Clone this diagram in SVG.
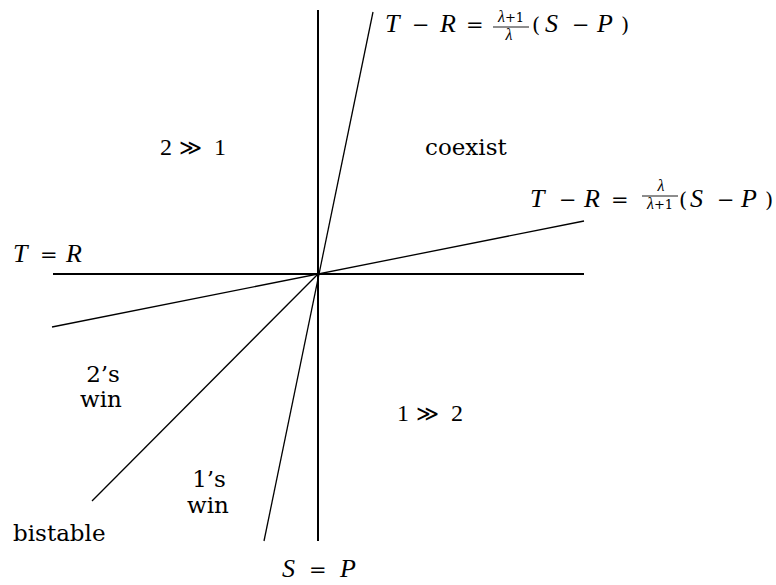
<svg xmlns="http://www.w3.org/2000/svg" width="776" height="585" viewBox="0 0 776 585">
<style>
.m{font-family:"Liberation Serif",serif;font-size:26px;font-style:italic;fill:#000}
.o{font-family:"DejaVu Serif",serif;font-size:21px;fill:#000}
.u{font-family:"Liberation Serif",serif;font-size:24px;fill:#000}
.f{font-family:"DejaVu Serif",serif;font-size:13px;fill:#000}
.fi{font-style:italic;font-family:"Liberation Serif",serif;font-size:16px}
.t{font-family:"DejaVu Serif",serif;font-size:23px;fill:#000}
.g{font-family:"DejaVu Serif",serif;font-size:22px;fill:#000}
.ax{stroke:#000;stroke-width:2;fill:none}
.ln{stroke:#000;stroke-width:1.3;fill:none}
.bar{stroke:#000;stroke-width:0.9}
</style>
<rect width="776" height="585" fill="#fff"/>
<g id="connectors">
<line class="ax" x1="318" y1="10" x2="318" y2="541"/>
<line class="ax" x1="53" y1="274" x2="584" y2="274"/>
<line class="ln" x1="373" y1="12" x2="264" y2="541"/>
<line class="ln" x1="584" y1="221" x2="52" y2="327"/>
<line class="ln" x1="318" y1="274" x2="92" y2="501"/>
</g>
<g id="label-steep">
<text class="m" x="385" y="32">T</text>
<text class="o" x="412" y="32">−</text>
<text class="m" x="440" y="32">R</text>
<text class="o" x="466" y="32">=</text>
<text class="f" x="511" y="22" text-anchor="middle"><tspan class="fi">λ</tspan>+1</text>
<line class="bar" x1="493" y1="27" x2="529" y2="27"/>
<text class="f" x="509" y="40" text-anchor="middle"><tspan class="fi">λ</tspan></text>
<text class="o" x="532" y="32">(</text>
<text class="m" x="545" y="32">S</text>
<text class="o" x="572" y="32">−</text>
<text class="m" x="597" y="32">P</text>
<text class="o" x="621" y="32">)</text>
</g>
<g id="label-shallow">
<text class="m" x="530" y="207">T</text>
<text class="o" x="559" y="207">−</text>
<text class="m" x="584" y="207">R</text>
<text class="o" x="611" y="207">=</text>
<text class="f" x="661" y="191" text-anchor="middle"><tspan class="fi">λ</tspan></text>
<line class="bar" x1="642" y1="196" x2="678" y2="196"/>
<text class="f" x="660" y="209" text-anchor="middle"><tspan class="fi">λ</tspan>+1</text>
<text class="o" x="679" y="207">(</text>
<text class="m" x="690" y="207">S</text>
<text class="o" x="717" y="207">−</text>
<text class="m" x="741" y="207">P</text>
<text class="o" x="765" y="207">)</text>
</g>
<g id="label-TR">
<text class="m" x="13" y="262">T</text>
<text class="o" x="40" y="262">=</text>
<text class="m" x="66" y="262">R</text>
</g>
<g id="label-SP">
<text class="m" x="282" y="577">S</text>
<text class="o" x="309" y="577">=</text>
<text class="m" x="340" y="577">P</text>
</g>
<g id="region-2gg1">
<text class="u" x="160" y="155">2</text>
<text class="g" x="179" y="155">≫</text>
<text class="u" x="214" y="155">1</text>
</g>
<g id="region-coexist">
<text class="t" x="425" y="155">coexist</text>
</g>
<g id="region-1gg2">
<text class="u" x="397" y="421">1</text>
<text class="g" x="416" y="421">≫</text>
<text class="u" x="451" y="421">2</text>
</g>
<g id="region-2win">
<text class="t" x="103" y="382" text-anchor="middle">2’s</text>
<text class="t" x="101" y="407" text-anchor="middle">win</text>
</g>
<g id="region-1win">
<text class="t" x="209" y="487" text-anchor="middle">1’s</text>
<text class="t" x="208" y="513" text-anchor="middle">win</text>
</g>
<g id="region-bistable">
<text class="t" x="13" y="541">bistable</text>
</g>
</svg>
